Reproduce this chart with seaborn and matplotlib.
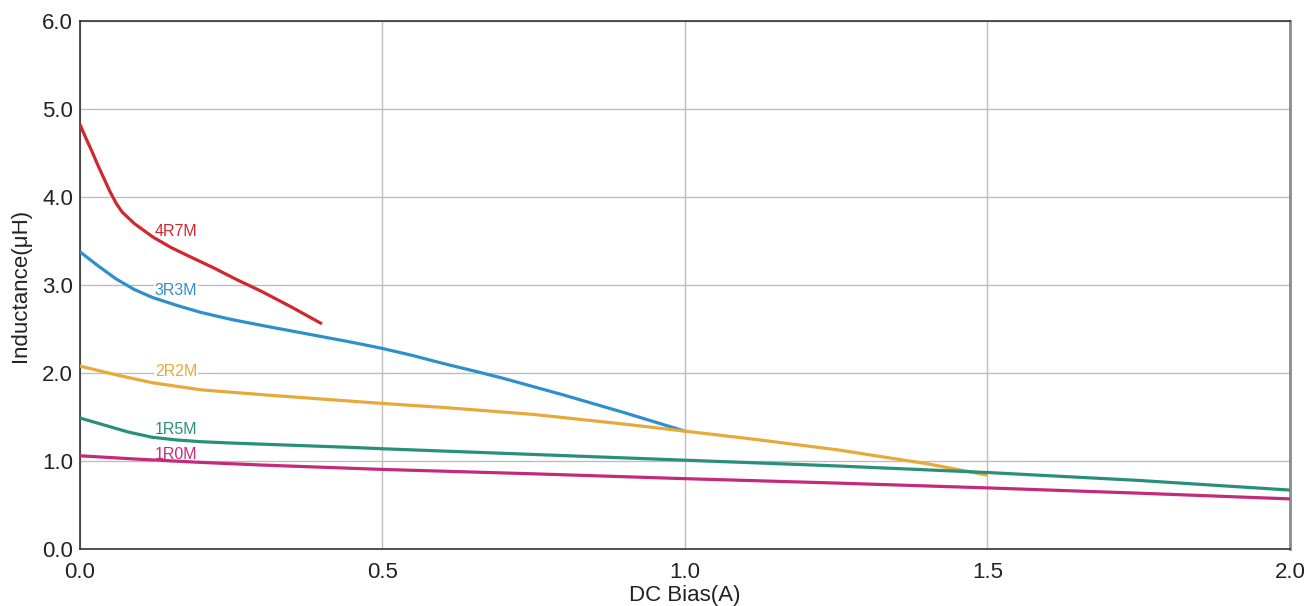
import numpy as np
import pandas as pd
import seaborn as sns
from matplotlib import pyplot as plt

# DC bias (A) vs inductance (uH) for each part
x_4r7 = [0, 0.01, 0.02, 0.03, 0.04, 0.05, 0.06, 0.07, 0.09, 0.12, 0.15, 0.18, 0.22, 0.26, 0.30, 0.35, 0.40]
l_4r7 = [4.83, 4.67, 4.52, 4.36, 4.21, 4.06, 3.93, 3.83, 3.70, 3.55, 3.43, 3.33, 3.20, 3.06, 2.93, 2.75, 2.56]

x_3r3 = [0, 0.03, 0.06, 0.09, 0.12, 0.16, 0.2, 0.25, 0.31, 0.38, 0.45, 0.5, 0.55, 0.6, 0.66, 0.7, 0.8, 0.9, 1.0]
l_3r3 = [3.38, 3.22, 3.07, 2.95, 2.86, 2.77, 2.69, 2.61, 2.53, 2.44, 2.35, 2.28, 2.20, 2.11, 2.01, 1.94, 1.75, 1.55, 1.34]

x_2r2 = [0, 0.06, 0.12, 0.2, 0.31, 0.45, 0.5, 0.6, 0.75, 0.9, 1.0, 1.1, 1.25, 1.4, 1.5]
l_2r2 = [2.08, 1.98, 1.89, 1.81, 1.75, 1.68, 1.655, 1.61, 1.53, 1.42, 1.34, 1.26, 1.13, 0.97, 0.84]

x_1r5 = [0, 0.04, 0.08, 0.12, 0.16, 0.2, 0.25, 0.35, 0.45, 0.5, 0.75, 1.0, 1.25, 1.5, 1.75, 2.0]
l_1r5 = [1.49, 1.41, 1.33, 1.27, 1.24, 1.22, 1.205, 1.18, 1.155, 1.14, 1.075, 1.01, 0.945, 0.87, 0.78, 0.67]

x_1r0 = [0, 0.1, 0.2, 0.3, 0.4, 0.5, 0.75, 1.0, 1.25, 1.5, 1.75, 2.0]
l_1r0 = [1.06, 1.02, 0.985, 0.955, 0.93, 0.905, 0.855, 0.80, 0.75, 0.695, 0.635, 0.57]

parts = ['4R7M', '3R3M', '2R2M', '1R5M', '1R0M']
label_y = [3.61, 2.94, 2.02, 1.36, 1.08]
label_x = 0.159

x_ticks = [0.0, 0.5, 1.0, 1.5, 2.0]
y_ticks = [0.0, 1.0, 2.0, 3.0, 4.0, 5.0, 6.0]

colors = {'4R7M': '#d0282c', '3R3M': '#2f8fcc', '2R2M': '#e6a93a',
          '1R5M': '#28907a', '1R0M': '#c42a7c'}

frames = []
for name, xs, ls in zip(parts, [x_4r7, x_3r3, x_2r2, x_1r5, x_1r0],
                        [l_4r7, l_3r3, l_2r2, l_1r5, l_1r0]):
    frames.append(pd.DataFrame({'bias': xs, 'L': ls, 'part': name}))
df = pd.concat(frames, ignore_index=True)

sns.set_style('white')
plt.rcParams['font.family'] = ['Liberation Sans', 'DejaVu Sans']

fig = plt.figure(figsize=(13.09, 6.06), dpi=100)
ax = fig.add_axes([0.061, 0.094, 0.9245, 0.871])

sns.lineplot(data=df, x='bias', y='L', hue='part', palette=colors,
             linewidth=2.3, legend=False, sort=False, ax=ax, zorder=3,
             solid_joinstyle='round', solid_capstyle='butt')

# labels sit on a white patch that hides the grid, lines stay on top
for name, ly in zip(parts, label_y):
    ax.text(label_x, ly, name, color=colors[name], fontsize=11.5,
            ha='center', va='center', zorder=2.5,
            bbox=dict(facecolor='white', edgecolor='none', pad=0.5))

ax.set_xlim(0, 2.0)
ax.set_ylim(0, 6.0)
ax.set_xticks(x_ticks)
ax.set_yticks(y_ticks)
ax.set_xticklabels(['%.1f' % v for v in x_ticks])
ax.set_yticklabels(['%.1f' % v for v in y_ticks])
ax.tick_params(axis='both', length=0, labelsize=16, colors='#222222')
ax.tick_params(axis='y', pad=5)
ax.tick_params(axis='x', pad=9)
ax.grid(True, color='#bdbdbd', linewidth=1.0, zorder=0)

for side in ['left', 'bottom', 'top']:
    ax.spines[side].set_color('#333333')
    ax.spines[side].set_linewidth(1.2)
ax.spines['right'].set_color('#8c8c8c')
ax.spines['right'].set_linewidth(2)

ax.set_xlabel('DC Bias(A)', fontsize=16, color='#222222', labelpad=2)
ax.set_ylabel('Inductance(\u03bcH)', fontsize=16, color='#222222', labelpad=8)

plt.savefig('out.png', dpi=100)
